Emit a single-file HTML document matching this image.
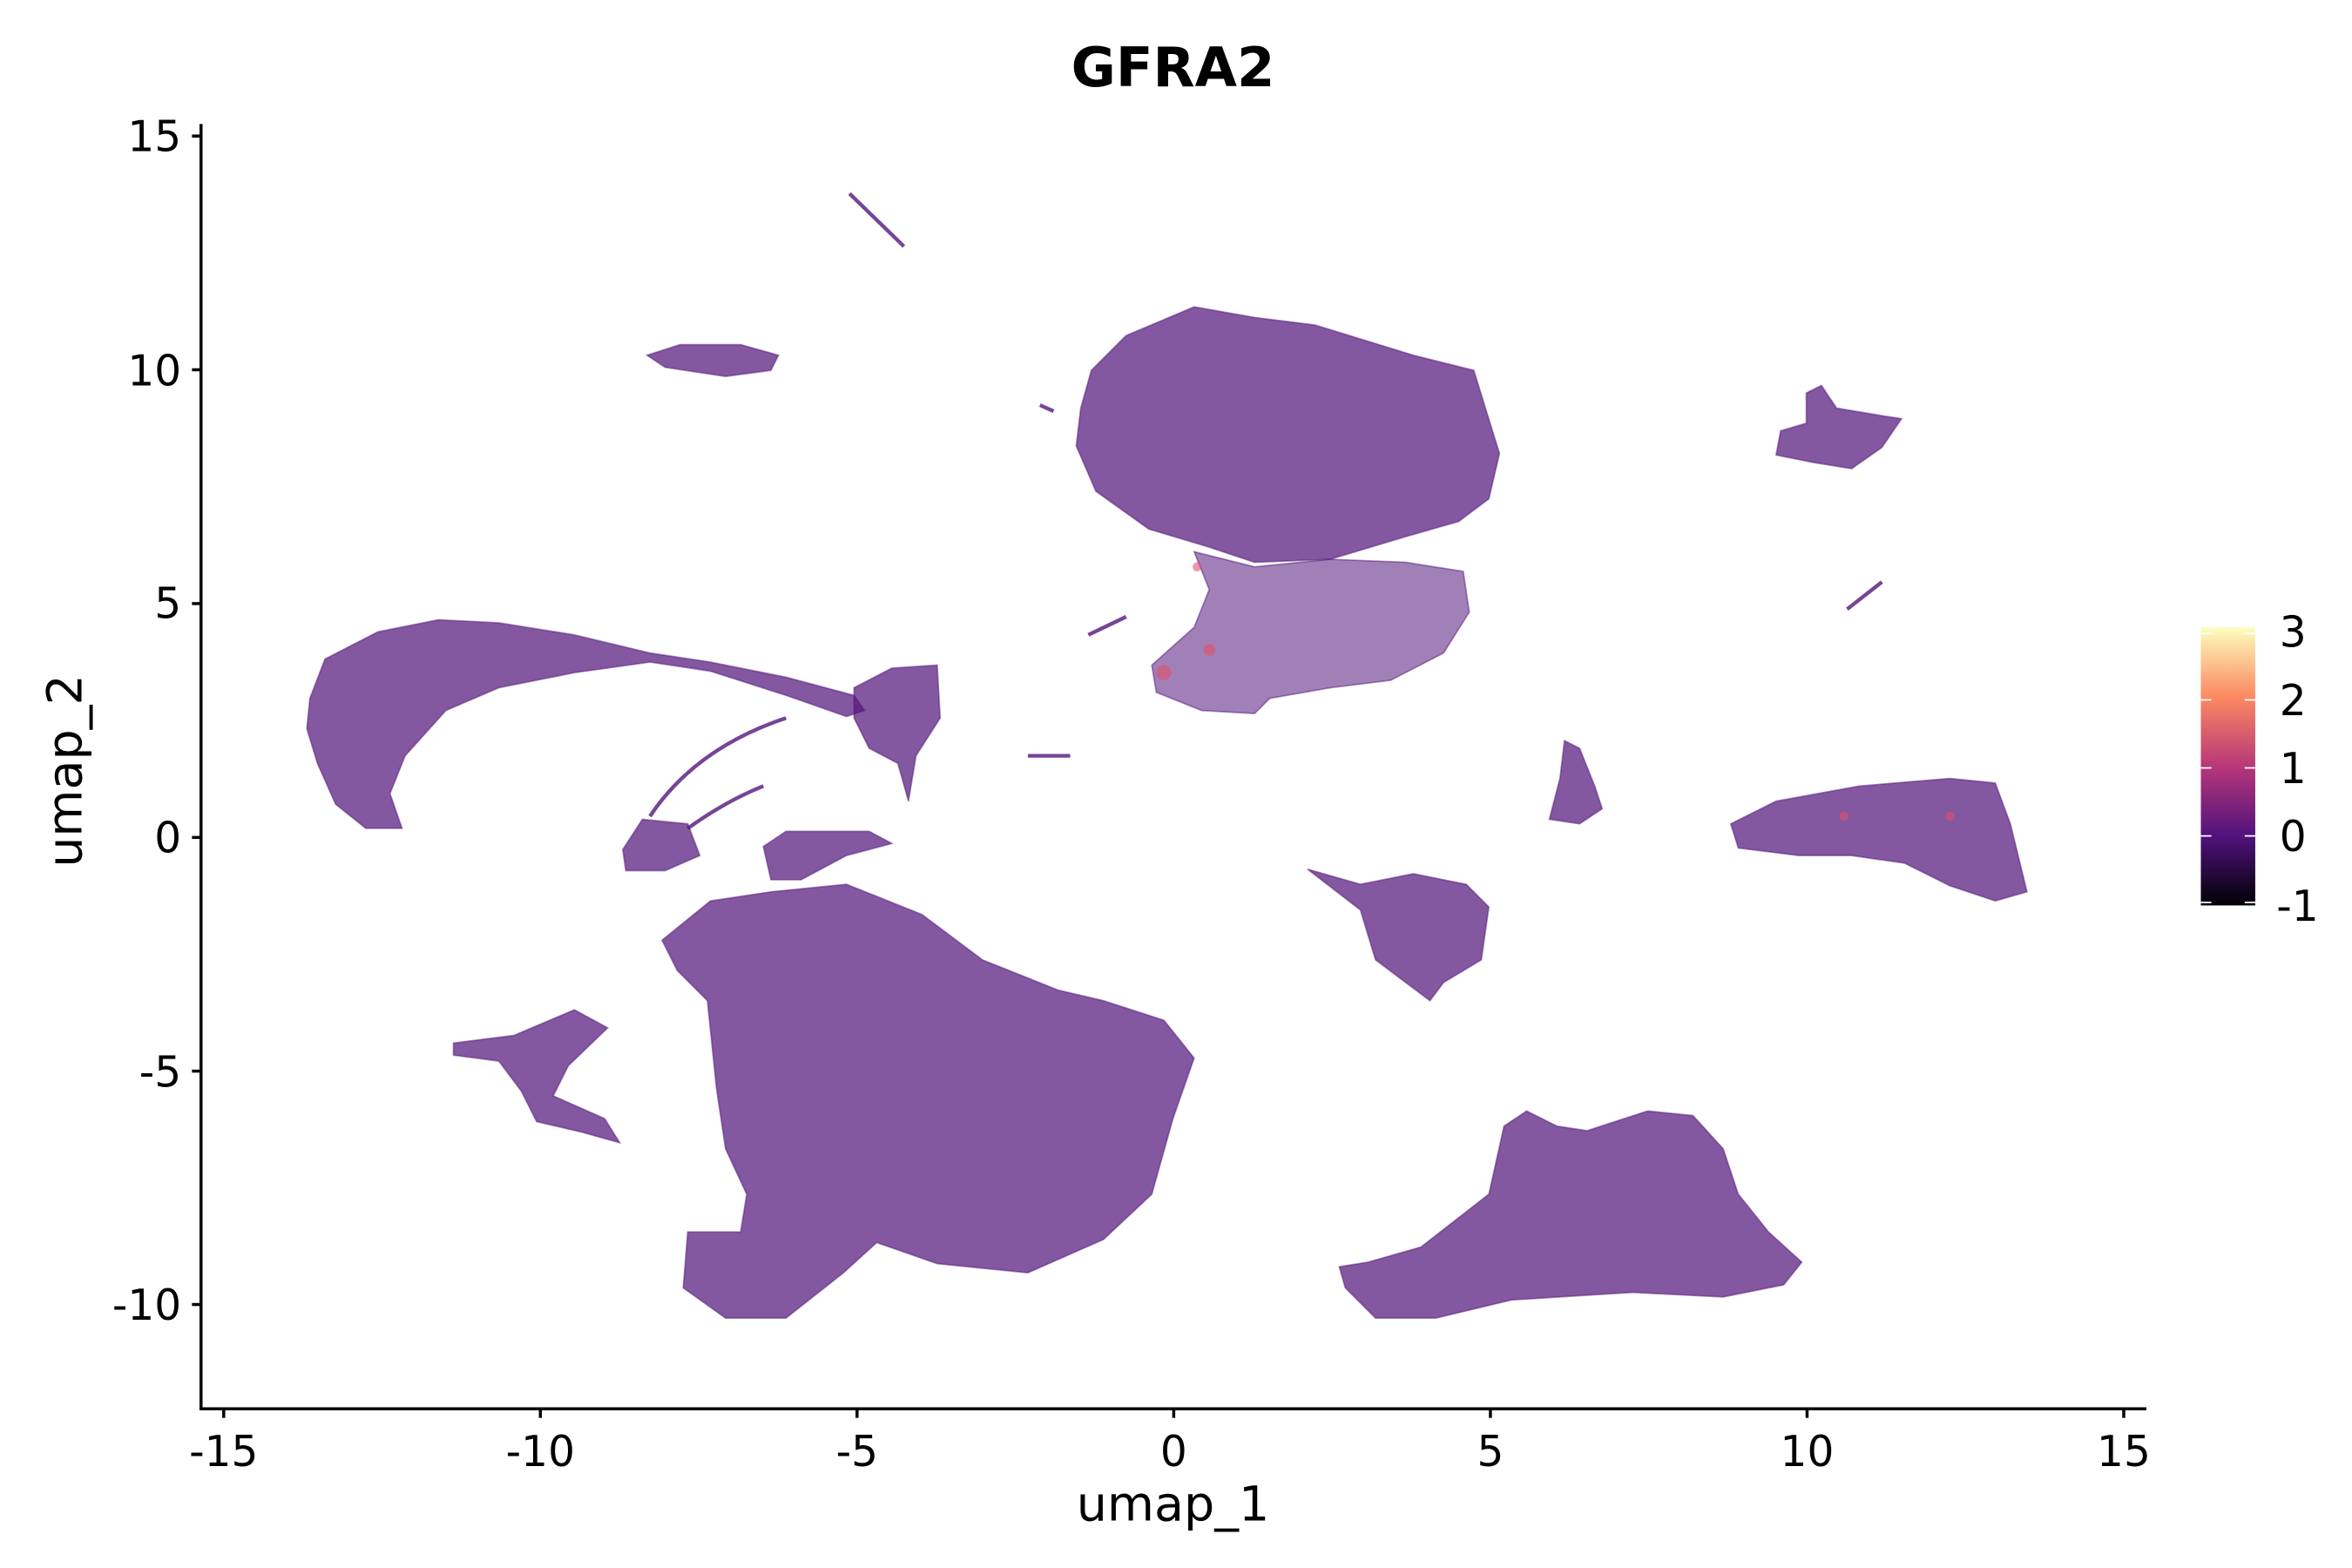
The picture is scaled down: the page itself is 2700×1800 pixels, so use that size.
<!DOCTYPE html>
<html><head><meta charset="utf-8"><style>
html,body{margin:0;padding:0;background:#fff;}
svg{display:block;}
text{font-family:"DejaVu Sans","Liberation Sans",sans-serif;fill:#000;}
</style></head><body>
<svg width="2700" height="1800" viewBox="0 0 1556 1037.3" xmlns="http://www.w3.org/2000/svg">
<defs>
<linearGradient id="mg" x1="0" y1="0" x2="0" y2="1">
<stop offset="0" stop-color="#fcfdbf"/>
<stop offset="0.25" stop-color="#fc8961"/>
<stop offset="0.5" stop-color="#b73779"/>
<stop offset="0.75" stop-color="#51127c"/>
<stop offset="1" stop-color="#000004"/>
</linearGradient>
</defs>
<rect width="1556" height="1038" fill="#fff"/>
<text x="776" y="57" font-size="36" font-weight="bold" text-anchor="middle">GFRA2</text>

<g fill="#54177c" fill-opacity="0.72" stroke="#54177c" stroke-opacity="0.5" stroke-width="1">
<path d="M715,270 L722,245 L745,222 L790,203 L830,210 L870,215 L935,235 L975,245 L992,300 L985,330 L965,345 L930,355 L880,370 L830,372 L800,362 L760,350 L725,325 L712,295 Z"/>
<path d="M790,365 L830,375 L880,370 L930,372 L968,378 L972,405 L955,432 L920,450 L880,455 L840,462 L830,472 L795,470 L765,458 L762,440 L790,415 L800,390 Z" fill-opacity="0.55"/>
<path d="M205,462 L215,436 L250,418 L290,410 L330,412 L380,420 L430,432 L470,438 L520,448 L565,460 L572,470 L560,474 L520,460 L470,444 L430,438 L380,445 L330,455 L295,470 L268,500 L258,525 L266,548 L242,548 L222,532 L210,505 L203,482 Z"/>
<path d="M565,455 L590,442 L620,440 L622,475 L606,500 L601,530 L594,505 L575,495 L565,475 Z"/>
<path d="M428,235 L450,228 L490,228 L515,235 L510,245 L480,249 L440,243 Z"/>
<path d="M412,562 L425,542 L455,545 L463,566 L440,576 L414,576 Z"/>
<path d="M438,622 L470,596 L510,590 L560,585 L610,605 L650,635 L700,655 L730,662 L770,675 L790,700 L776,740 L762,790 L730,820 L680,842 L620,836 L580,822 L558,842 L520,872 L480,872 L452,852 L455,815 L490,815 L494,790 L480,760 L474,720 L468,662 L448,642 Z"/>
<path d="M505,560 L520,550 L575,550 L590,558 L560,566 L530,582 L510,582 Z"/>
<path d="M300,690 L340,685 L380,668 L402,680 L376,705 L366,725 L400,740 L410,756 L385,749 L355,742 L345,722 L330,702 L300,698 Z"/>
<path d="M865,575 L900,585 L935,578 L970,585 L985,600 L980,635 L955,650 L946,662 L930,650 L910,635 L900,602 Z"/>
<path d="M1035,490 L1045,495 L1055,520 L1060,535 L1045,545 L1025,542 L1032,515 Z"/>
<path d="M1145,545 L1175,530 L1230,520 L1290,515 L1320,518 L1330,545 L1341,590 L1320,596 L1290,586 L1260,571 L1225,566 L1190,566 L1150,561 Z"/>
<path d="M1195,260 L1205,255 L1215,270 L1245,275 L1258,277 L1245,296 L1225,310 L1200,306 L1175,301 L1178,285 L1195,280 Z"/>
<path d="M905,835 L940,825 L985,790 L995,745 L1010,735 L1030,745 L1050,748 L1090,735 L1120,738 L1140,760 L1150,790 L1170,815 L1192,835 L1180,850 L1140,858 L1080,855 L1000,860 L950,872 L910,872 L890,852 L886,838 Z"/>
</g>
<g fill="none" stroke="#54177c" stroke-width="2.5" stroke-opacity="0.8">
<path d="M562,128 L598,163"/>
<path d="M430,540 Q460,495 520,475"/>
<path d="M455,548 Q480,530 505,520"/>
<path d="M720,420 L745,408"/>
<path d="M680,500 L708,500"/>
<path d="M1222,403 L1245,385"/>
<path d="M688,268 L697,272"/>
</g>
<g fill="#e0506a" fill-opacity="0.6">
<circle cx="770" cy="445" r="5"/><circle cx="800" cy="430" r="4"/><circle cx="792" cy="375" r="3"/><circle cx="1220" cy="540" r="3"/><circle cx="1290" cy="540" r="3"/>
</g>

<g stroke="#000" stroke-width="2" fill="none">
<line x1="133" y1="82" x2="133" y2="933"/>
<line x1="132" y1="932" x2="1420" y2="932"/>
<line x1="148" y1="932" x2="148" y2="938"/><line x1="357.5" y1="932" x2="357.5" y2="938"/>
<line x1="567" y1="932" x2="567" y2="938"/><line x1="776.5" y1="932" x2="776.5" y2="938"/>
<line x1="986" y1="932" x2="986" y2="938"/><line x1="1195.5" y1="932" x2="1195.5" y2="938"/>
<line x1="1405" y1="932" x2="1405" y2="938"/>
<line x1="127" y1="90" x2="133" y2="90"/><line x1="127" y1="244.6" x2="133" y2="244.6"/>
<line x1="127" y1="399.3" x2="133" y2="399.3"/><line x1="127" y1="554" x2="133" y2="554"/>
<line x1="127" y1="708.6" x2="133" y2="708.6"/><line x1="127" y1="863" x2="133" y2="863"/>
</g>
<g font-size="28" text-anchor="middle">
<text x="148" y="970">-15</text><text x="357.5" y="970">-10</text><text x="567" y="970">-5</text>
<text x="776.5" y="970">0</text><text x="986" y="970">5</text><text x="1195.5" y="970">10</text><text x="1405" y="970">15</text>
</g>
<g font-size="28" text-anchor="end">
<text x="120" y="100">15</text><text x="120" y="255">10</text><text x="120" y="409">5</text>
<text x="120" y="564">0</text><text x="120" y="719">-5</text><text x="120" y="873">-10</text>
</g>
<text x="776" y="1006" font-size="32" text-anchor="middle">umap_1</text>
<text transform="translate(54,510) rotate(-90)" font-size="32" text-anchor="middle">umap_2</text>

<rect x="1456" y="415" width="36" height="184" fill="url(#mg)"/>
<g stroke="#fff" stroke-width="1">
<line x1="1456" y1="419" x2="1463" y2="419"/><line x1="1485" y1="419" x2="1492" y2="419"/>
<line x1="1456" y1="463" x2="1463" y2="463"/><line x1="1485" y1="463" x2="1492" y2="463"/>
<line x1="1456" y1="508" x2="1463" y2="508"/><line x1="1485" y1="508" x2="1492" y2="508"/>
<line x1="1456" y1="553" x2="1463" y2="553"/><line x1="1485" y1="553" x2="1492" y2="553"/>
<line x1="1456" y1="597" x2="1463" y2="597"/><line x1="1485" y1="597" x2="1492" y2="597"/>
</g>
<g font-size="28">
<text x="1508" y="428">3</text><text x="1508" y="473">2</text><text x="1508" y="518">1</text>
<text x="1508" y="563">0</text><text x="1506" y="609">-1</text>
</g>
</svg>
</body></html>
